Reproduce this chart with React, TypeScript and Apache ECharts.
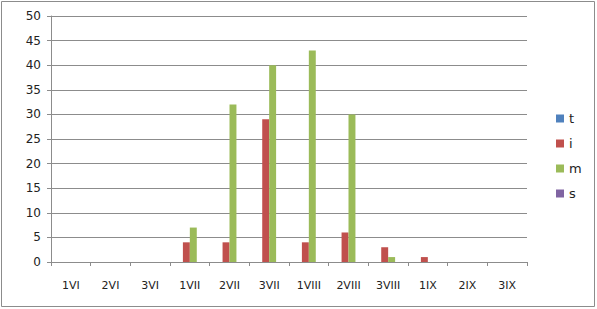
import React, { useEffect, useRef } from "react";
import * as echarts from "echarts";

const categories = ["1VI", "2VI", "3VI", "1VII", "2VII", "3VII", "1VIII", "2VIII", "3VIII", "1IX", "2IX", "3IX"];
const seriesNames = ["t", "i", "m", "s"];
const tValues = [0, 0, 0, 0, 0, 0, 0, 0, 0, 0, 0, 0];
const iValues = [0, 0, 0, 4, 4, 29, 4, 6, 3, 1, 0, 0];
const mValues = [0, 0, 0, 7, 32, 40, 43, 30, 1, 0, 0, 0];
const sValues = [0, 0, 0, 0, 0, 0, 0, 0, 0, 0, 0, 0];
const colors = ["#4F81BD", "#C0504D", "#9BBB59", "#8064A2"];

export default function App() {
  const ref = useRef<HTMLDivElement>(null);
  useEffect(() => {
    document.body.style.margin = "0";
    const chart = echarts.init(ref.current!, null, { renderer: "svg" });
    const data = [tValues, iValues, mValues, sValues];
    chart.setOption({
      animation: false,
      textStyle: { fontFamily: "DejaVu Sans" },
      graphic: [
        {
          type: "rect",
          shape: { x: 1.5, y: 1.5, width: 593, height: 305 },
          style: { fill: "#fff", stroke: "#8c8c8c", lineWidth: 1 },
          z: -10,
        },
      ],
      legend: {
        orient: "vertical",
        left: 551,
        top: 107,
        itemWidth: 8,
        itemHeight: 8,
        itemGap: 12,
        icon: "rect",
        textStyle: { fontSize: 13, color: "#222", fontFamily: "DejaVu Sans" },
        data: seriesNames,
      },
      grid: { left: 51, top: 16, width: 476, height: 246, containLabel: false },
      xAxis: {
        type: "category",
        data: categories,
        axisLine: { lineStyle: { color: "#8c8c8c" } },
        axisTick: { show: true, length: 4, alignWithLabel: false, lineStyle: { color: "#8c8c8c" } },
        axisLabel: { color: "#222", fontSize: 11, margin: 18, interval: 0 },
      },
      yAxis: {
        type: "value",
        min: 0,
        max: 50,
        interval: 5,
        axisLine: { show: true, lineStyle: { color: "#8c8c8c" } },
        axisTick: { show: true, length: 4, lineStyle: { color: "#8c8c8c" } },
        axisLabel: { color: "#222", fontSize: 12, margin: 10 },
        splitLine: { lineStyle: { color: "#8c8c8c" } },
      },
      series: seriesNames.map((name, k) => ({
        name,
        type: "bar",
        data: data[k],
        itemStyle: { color: colors[k] },
        barGap: "0%",
        barCategoryGap: "30%",
      })),
    });
    return () => chart.dispose();
  }, []);
  return <div ref={ref} style={{ width: 597, height: 309 }} />;
}
